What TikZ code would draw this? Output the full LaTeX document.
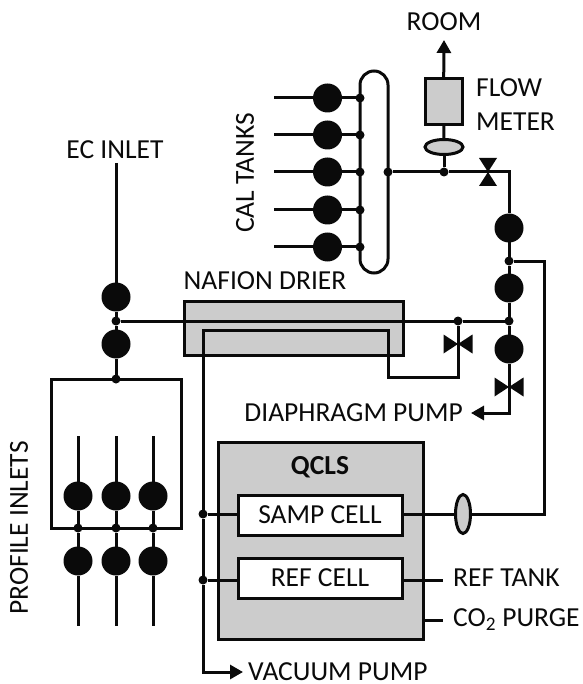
\documentclass[tikz,border=0pt]{standalone}
\usepackage{fontspec}
\usepackage{xcolor}
\usepackage{tikz}
\usetikzlibrary{arrows.meta, positioning, calc, shapes.geometric}
\setmainfont{Carlito}
\definecolor{boxgrey}{RGB}{204, 204, 204}
\definecolor{inkblack}{RGB}{10, 10, 10}

\begin{document}
\begin{tikzpicture}[
    x=1pt, y=-1pt,
    pipe/.style={draw=inkblack, line width=3pt},
    arr/.style={pipe, -{Triangle[length=13pt, width=14pt]}},
    pump/.style={circle, fill=inkblack, minimum size=29pt, inner sep=0pt, outer sep=0pt},
    junc/.style={circle, fill=inkblack, minimum size=9pt, inner sep=0pt, outer sep=0pt},
    vvalve/.style={rectangle, minimum width=18pt, minimum height=28pt, inner sep=0pt, outer sep=0pt,
                   path picture={\fill[inkblack] (path picture bounding box.north west)
                     -- (path picture bounding box.north east)
                     -- (path picture bounding box.south west)
                     -- (path picture bounding box.south east) -- cycle;}},
    hvalve/.style={rectangle, minimum width=29pt, minimum height=19pt, inner sep=0pt, outer sep=0pt,
                   path picture={\fill[inkblack] (path picture bounding box.north west)
                     -- (path picture bounding box.south west)
                     -- (path picture bounding box.north east)
                     -- (path picture bounding box.south east) -- cycle;}},
    greybox/.style={rectangle, pipe, fill=boxgrey, inner sep=0pt, outer sep=0pt},
    cell/.style={rectangle, pipe, fill=white, minimum width=164pt, minimum height=40pt,
                 outer sep=0pt, lbl},
    gauge/.style={ellipse, pipe, fill=boxgrey, inner sep=0pt, outer sep=0pt},
    lbl/.style={font=\fontsize{27.5}{30}\selectfont, text=inkblack, inner sep=0pt}
  ]
  \useasboundingbox (0,0) rectangle (582,684);

  % Grey boxes
  \node[greybox, minimum width=219pt, minimum height=54pt] (nafion) at (293.5,328) {};
  \node[greybox, minimum width=205pt, minimum height=197pt] (qcls) at (320.5,540.5) {};
  \node[greybox, minimum width=37pt, minimum height=46pt] (meter) at (443.5,102) {};
  \node[cell] (samp) at (320,515) {SAMP CELL};
  \node[cell] (refcell) at (320,578) {REF CELL};

  % Cal tanks
  \node[pump] (cal1) at (327.5,98)  {};
  \node[pump] (cal2) at (327.5,135) {};
  \node[pump] (cal3) at (327.5,172) {};
  \node[pump] (cal4) at (327.5,210) {};
  \node[pump] (cal5) at (327.5,247) {};
  \node[junc] (bus1) at (360,98)  {};
  \node[junc] (bus2) at (360,135) {};
  \node[junc] (bus3) at (360,172) {};
  \node[junc] (bus4) at (360,210) {};
  \node[junc] (bus5) at (360,247) {};
  \coordinate (tank1) at (274,98);
  \coordinate (tank2) at (274,135);
  \coordinate (tank3) at (274,172);
  \coordinate (tank4) at (274,210);
  \coordinate (tank5) at (274,247);
  \draw[pipe] (tank1) -- (cal1) -- (bus1);
  \draw[pipe] (tank2) -- (cal2) -- (bus2);
  \draw[pipe] (tank3) -- (cal3) -- (bus3);
  \draw[pipe] (tank4) -- (cal4) -- (bus4);
  \draw[pipe] (tank5) -- (cal5) -- (bus5);
  \node[rectangle, pipe, rounded corners=14pt, minimum width=28pt, minimum height=202pt,
        inner sep=0pt, outer sep=0pt] (manifold) at (374,172) {};

  % Flow meter and room vent
  \node[junc] (jout) at (388,172) {};
  \node[junc] (jflow) at (444,172) {};
  \node[gauge, minimum width=38pt, minimum height=15pt] (flowgauge) at (444,147) {};
  \node[vvalve] (vroom) at (488,172) {};
  \coordinate (room) at (444,40);
  \draw[pipe] (jflow) -- (flowgauge);
  \draw[pipe] (flowgauge) -- (meter);
  \draw[arr] (meter) -- (room);

  % Right column
  \node[pump] (r1) at (509,228) {};
  \node[junc] (jbranch) at (509,261) {};
  \node[pump] (r2) at (509,288) {};
  \node[junc] (jmain) at (509,321) {};
  \node[pump] (r3) at (509,349) {};
  \node[hvalve] (vpump) at (509,387) {};
  \coordinate (diaph) at (471,413);
  \draw[pipe] (jout) -- (jflow) -- (vroom.center) -| (r1);
  \draw[pipe] (r1) -- (jbranch) -- (r2) -- (jmain) -- (r3) -- (vpump.center);
  \draw[arr] (vpump.center) |- (diaph);

  % EC inlet and main line
  \coordinate (ecin) at (116,163);
  \node[pump] (ec1) at (116,297) {};
  \node[junc] (jec) at (116,321) {};
  \node[pump] (ec2) at (116,344) {};
  \node[junc] (jprof) at (116,379) {};
  \node[junc] (jdry) at (458,321) {};
  \draw[pipe] (ecin) -- (ec1) -- (jec) -- (ec2) -- (jprof);
  \draw[pipe] (jec) -- (jdry) -- (jmain);

  % Profile inlets
  \coordinate (ptl) at (51,379);
  \coordinate (pbr) at (181,528);
  \draw[pipe] (ptl) rectangle (pbr);
  \coordinate (ptop1) at (78,436);
  \coordinate (ptop2) at (116,436);
  \coordinate (ptop3) at (153,436);
  \coordinate (pbot1) at (78,626);
  \coordinate (pbot2) at (116,626);
  \coordinate (pbot3) at (153,626);
  \node[pump] (pa1) at (78,496)  {};
  \node[pump] (pa2) at (116,496) {};
  \node[pump] (pa3) at (153,496) {};
  \node[junc] (pj1) at (78,528)  {};
  \node[junc] (pj2) at (116,528) {};
  \node[junc] (pj3) at (153,528) {};
  \node[pump] (pb1) at (78,561)  {};
  \node[pump] (pb2) at (116,561) {};
  \node[pump] (pb3) at (153,561) {};
  \draw[pipe] (ptop1) -- (pa1) -- (pj1) -- (pb1) -- (pbot1);
  \draw[pipe] (ptop2) -- (pa2) -- (pj2) -- (pb2) -- (pbot2);
  \draw[pipe] (ptop3) -- (pa3) -- (pj3) -- (pb3) -- (pbot3);

  % Drier purge and vacuum line
  \node[hvalve] (vdry) at (458,344) {};
  \node[junc] (jsamp) at (203,514) {};
  \node[junc] (jref) at (203,580) {};
  \coordinate (tubeb) at (388,377);
  \coordinate (tuber) at (388,330);
  \coordinate (tubel) at (203,330);
  \coordinate (vacuum) at (243,672);
  \draw[pipe] (jdry) -- (vdry.center) |- (tubeb) -- (tuber) -- (tubel) -- (jsamp) -- (jref);
  \draw[arr] (jref) |- (vacuum);
  \draw[pipe] (jsamp) -- (samp.west |- jsamp);
  \draw[pipe] (jref) -- (refcell.west |- jref);

  % Sample return
  \node[gauge, minimum width=15pt, minimum height=39pt] (sampgauge) at (463,514) {};
  \coordinate (retn) at (544,261);
  \coordinate (reftank) at (443,580);
  \coordinate (purge) at (443,620);
  \draw[pipe] (samp.east |- sampgauge) -- (sampgauge);
  \draw[pipe] (sampgauge) -| (retn) -- (jbranch);
  \draw[pipe] (refcell.east |- reftank) -- (reftank);
  \draw[pipe] (qcls.east |- purge) -- (purge);

  % Labels
  \node[lbl, above=9pt of room] (roomlbl) {ROOM};
  \node[lbl, anchor=west] (flowlbl) at (476,88) {FLOW};
  \node[lbl, anchor=west] (meterlbl) at (476,122) {METER};
  \node[lbl, rotate=90] (callbl) at (245,173) {CAL TANKS};
  \node[lbl] (eclbl) at (115,150) {EC INLET};
  \node[lbl] (nafionlbl) at (265,281) {NAFION DRIER};
  \node[lbl, anchor=east] (diaphlbl) at (463,413) {DIAPHRAGM PUMP};
  \node[lbl, font=\fontsize{27.5}{30}\selectfont\bfseries] (qclslbl) at (320,467) {QCLS};
  \node[lbl, anchor=west] (reflbl) at (453,578) {REF TANK};
  \node[lbl, anchor=west] (purgelbl) at (453,620) {CO\textsubscript{2} PURGE};
  \node[lbl, anchor=west] (vaclbl) at (248,672) {VACUUM PUMP};
  \node[lbl, rotate=90] (proflbl) at (19,528) {PROFILE INLETS};

\end{tikzpicture}
\end{document}
